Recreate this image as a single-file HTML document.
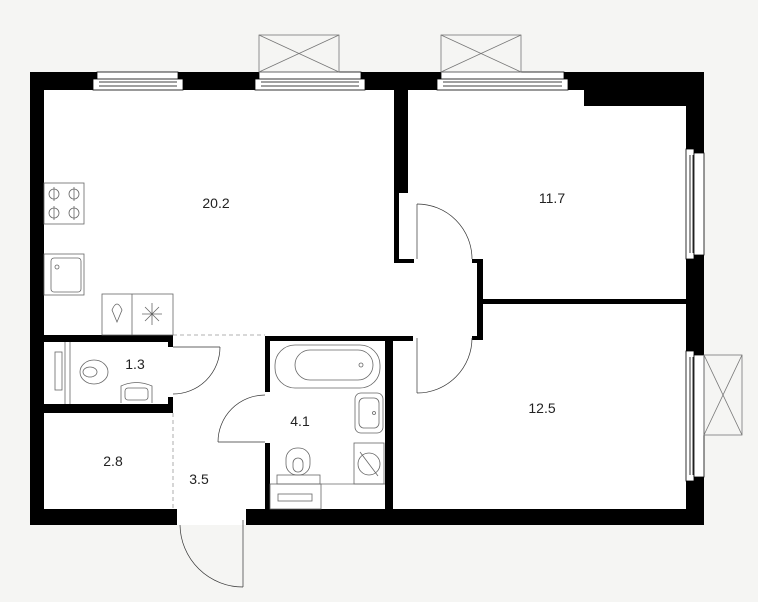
<!DOCTYPE html>
<html><head><meta charset="utf-8"><style>
html,body{margin:0;padding:0;background:#f5f5f3;}
svg{display:block}
text{font-family:"Liberation Sans",sans-serif;font-size:14px;fill:#222;text-anchor:middle}
</style></head><body>
<svg width="758" height="602" viewBox="0 0 758 602" xmlns="http://www.w3.org/2000/svg">
<rect width="758" height="602" fill="#f5f5f3"/>
<!-- floor -->
<rect x="44" y="90" width="642" height="419" fill="#fff"/>
<!-- entrance opening floor -->
<rect x="177" y="509" width="69" height="16" fill="#fff"/>
<g fill="#000">
<!-- outer walls -->
<rect x="30" y="72" width="674" height="18"/>
<rect x="30" y="72" width="14" height="453"/>
<rect x="686" y="72" width="18" height="453"/>
<rect x="30" y="509" width="147" height="16"/>
<rect x="246" y="509" width="458" height="16"/>
<rect x="584" y="90" width="102" height="16"/>
<!-- kitchen / bedroom divider -->
<rect x="394" y="90" width="14" height="103"/>
<rect x="394" y="193" width="5" height="70"/>
<rect x="394" y="259" width="20" height="4"/>
<rect x="477" y="259" width="6" height="81"/>
<rect x="472" y="259" width="5" height="4"/>
<rect x="472" y="336" width="5" height="4"/>
<rect x="483" y="299" width="203" height="5"/>
<!-- WC -->
<rect x="44" y="335" width="129" height="7"/>
<rect x="168" y="335" width="5" height="12"/>
<rect x="44" y="404" width="129" height="9"/>
<rect x="168" y="397" width="5" height="16"/>
<!-- bathroom -->
<rect x="265" y="336" width="148" height="5"/>
<rect x="265" y="336" width="5" height="56"/>
<rect x="265" y="443" width="5" height="66"/>
<rect x="385" y="336" width="8" height="173"/>
</g>
<!-- top windows -->
<g fill="#fff" stroke="#000" stroke-width="0.8">
<rect x="97" y="72" width="81" height="8"/><rect x="93" y="79" width="90" height="11"/>
<line x1="99" y1="82" x2="177" y2="82"/><line x1="99" y1="86" x2="177" y2="86"/>
<rect x="259" y="72" width="102" height="8"/><rect x="255" y="79" width="110" height="11"/>
<line x1="261" y1="82" x2="359" y2="82"/><line x1="261" y1="86" x2="359" y2="86"/>
<rect x="441" y="72" width="123" height="8"/><rect x="437" y="79" width="131" height="11"/>
<line x1="443" y1="82" x2="562" y2="82"/><line x1="443" y1="86" x2="562" y2="86"/>
<!-- right windows -->
<rect x="686" y="149" width="8" height="110"/><rect x="694" y="153" width="10" height="102"/>
<line x1="690" y1="155" x2="690" y2="253"/><line x1="693" y1="155" x2="693" y2="253"/>
<rect x="686" y="351" width="8" height="130"/><rect x="694" y="355" width="10" height="122"/>
<line x1="690" y1="357" x2="690" y2="475"/><line x1="693" y1="357" x2="693" y2="475"/>
</g>
<!-- balconies -->
<g fill="none" stroke="#777" stroke-width="0.8">
<rect x="259" y="35" width="80" height="37"/><line x1="259" y1="35" x2="339" y2="72"/><line x1="339" y1="35" x2="259" y2="72"/>
<rect x="441" y="35" width="80" height="37"/><line x1="441" y1="35" x2="521" y2="72"/><line x1="521" y1="35" x2="441" y2="72"/>
<rect x="704" y="355" width="38" height="80"/><line x1="704" y1="355" x2="742" y2="435"/><line x1="742" y1="355" x2="704" y2="435"/>
</g>
<!-- dashed -->
<g stroke="#999" stroke-width="0.8" stroke-dasharray="4,3" fill="none">
<line x1="173" y1="335" x2="265" y2="335"/>
<line x1="173" y1="413" x2="173" y2="509"/>
</g>
<!-- doors -->
<g fill="none" stroke="#333" stroke-width="0.7">
<line x1="417" y1="204" x2="417" y2="259"/><path d="M417 204 A55 55 0 0 1 472 259"/>
<line x1="417" y1="338" x2="417" y2="393"/><path d="M417 393 A55 55 0 0 0 472 338"/>
<line x1="173" y1="347" x2="220" y2="347"/><path d="M220 347 A47 47 0 0 1 173 394"/>
<line x1="218" y1="442" x2="265" y2="442"/><path d="M218 442 A47 47 0 0 1 265 395"/>
<line x1="243" y1="520" x2="243" y2="587"/><path d="M243 587 A63 63 0 0 1 180 525"/>
</g>
<!-- fixtures -->
<g fill="none" stroke="#666" stroke-width="0.8">
<rect x="44" y="183" width="40" height="41"/>
<circle cx="54" cy="194" r="5"/><circle cx="74" cy="194" r="5"/><circle cx="54" cy="213" r="5"/><circle cx="74" cy="213" r="5"/>
<line x1="54" y1="187" x2="54" y2="201"/><line x1="74" y1="187" x2="74" y2="201"/><line x1="54" y1="206" x2="54" y2="220"/><line x1="74" y1="206" x2="74" y2="220"/>
<rect x="44" y="254" width="40" height="41"/><rect x="51" y="258" width="30" height="34" rx="3"/><circle cx="57" cy="267" r="2"/>
<rect x="102" y="294" width="71" height="41"/><line x1="132" y1="294" x2="132" y2="335"/>
<path d="M112 310 Q117 298 122 310 L117 322 Z"/>
<path d="M152 303 V325 M142 314 H162 M145 307 L159 321 M159 307 L145 321"/>
<rect x="55" y="352" width="7" height="38"/>
<line x1="65" y1="342" x2="65" y2="404"/><line x1="70" y1="342" x2="70" y2="404"/>
<ellipse cx="94" cy="372" rx="14" ry="12"/><ellipse cx="90" cy="372" rx="7" ry="5"/>
<path d="M121 403 V386 Q136 379 152 386 V403"/><rect x="125" y="388" width="23" height="12" rx="3"/>
<rect x="275" y="345" width="105" height="43" rx="20"/><rect x="295" y="350" width="78" height="30" rx="15"/><circle cx="361" cy="365" r="2"/>
<rect x="355" y="393" width="28" height="40" rx="6"/><rect x="359" y="398" width="20" height="30" rx="5"/><circle cx="374" cy="413" r="1.5"/>
<rect x="354" y="443" width="30" height="41"/><circle cx="369" cy="464" r="11"/><line x1="360" y1="452" x2="378" y2="476"/>
<rect x="286" y="448" width="24" height="27" rx="11"/><rect x="293" y="458" width="10" height="14" rx="5"/>
<rect x="277" y="475" width="43" height="9"/>
<rect x="270" y="484" width="51" height="25"/><rect x="278" y="494" width="34" height="7"/>
<line x1="321" y1="484" x2="385" y2="484"/>
</g>
<text x="216" y="208">20.2</text>
<text x="552" y="203">11.7</text>
<text x="542" y="413">12.5</text>
<text x="135" y="369">1.3</text>
<text x="113" y="466">2.8</text>
<text x="199" y="484">3.5</text>
<text x="300" y="426">4.1</text>
</svg>
</body></html>
